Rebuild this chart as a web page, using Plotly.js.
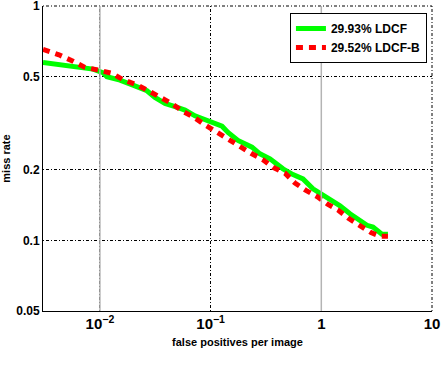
<!DOCTYPE html>
<html>
<head>
<meta charset="utf-8">
<script src="https://cdn.plot.ly/plotly-3.0.1.min.js"></script>
<style>
  body { margin: 0; background: #fff; }
  #chart { width: 442px; height: 382px; }
</style>
</head>
<body>
<div id="chart"></div>
<script>
// false positives per image vs miss rate
const ldcfFppi = [0.00306, 0.00436, 0.00661, 0.00865, 0.0100, 0.01064, 0.01156, 0.01516, 0.01988, 0.0266,
    0.0314, 0.0387, 0.0477, 0.0587, 0.0722, 0.0890, 0.1096, 0.1268, 0.1436, 0.1767,
    0.2364, 0.279, 0.344, 0.451, 0.555, 0.683, 0.841, 1.015, 1.198, 1.476,
    1.816, 2.237, 2.588, 2.93, 3.25, 3.53, 4.0];
const ldcfMiss = [0.574, 0.563, 0.550, 0.538, 0.525, 0.520, 0.499, 0.483, 0.460, 0.435,
    0.407, 0.384, 0.372, 0.360, 0.340, 0.327, 0.314, 0.307, 0.289, 0.267,
    0.250, 0.234, 0.223, 0.202, 0.191, 0.183, 0.166, 0.157, 0.148, 0.1405,
    0.130, 0.122, 0.116, 0.114, 0.1105, 0.1063, 0.1063];

const ldcfbFppi = [0.00306, 0.00427, 0.00559, 0.00733, 0.0096, 0.01285, 0.01615, 0.02161, 0.0266, 0.0348,
    0.0447, 0.0563, 0.0722, 0.0890, 0.1141, 0.1436, 0.1842, 0.2316, 0.297, 0.366,
    0.470, 0.579, 0.727, 0.914, 1.15, 1.416, 1.742, 2.19, 2.81, 3.39, 4.0];
const ldcfbMiss = [0.653, 0.619, 0.584, 0.547, 0.533, 0.516, 0.485, 0.461, 0.438, 0.410,
    0.383, 0.355, 0.333, 0.311, 0.289, 0.269, 0.252, 0.2355, 0.2208, 0.205,
    0.1936, 0.1756, 0.1634, 0.154, 0.1425, 0.1348, 0.1247, 0.116, 0.108, 0.1042, 0.1042];

const seriesNames = ['29.93% LDCF', '29.52% LDCF-B'];
const missTicks = [0.05, 0.1, 0.2, 0.5, 1];
const refLinesX = [0.01, 1];

const font = { family: 'Liberation Sans, Arial, sans-serif', size: 12, color: '#000', weight: 'bold' };
const gridDash = '1px,2px,3px,2px';

const traces = [
    {
        x: ldcfFppi, y: ldcfMiss, mode: 'lines', name: seriesNames[0],
        line: { color: '#00ff00', width: 5 }
    },
    {
        x: ldcfbFppi, y: ldcfbMiss, mode: 'lines', name: seriesNames[1],
        line: { color: '#ff0000', width: 5, dash: '7px,6px' }
    }
];

// gray vertical reference lines drawn over the curves
refLinesX.forEach(v => {
    traces.push({
        x: [v, v], y: [missTicks[0], missTicks[missTicks.length - 1]],
        mode: 'lines', showlegend: false, hoverinfo: 'skip',
        line: { color: '#b4b4b4', width: 1.5 }
    });
});

// dotted grid on the top and right edges (plotly drops edge gridlines)
const shapes = [
    { type: 'line', xref: 'paper', yref: 'paper', x0: 0, x1: 1, y0: 1, y1: 1,
      line: { color: '#000', width: 1, dash: gridDash }, layer: 'below' },
    { type: 'line', xref: 'paper', yref: 'paper', x0: 1, x1: 1, y0: 0, y1: 1,
      line: { color: '#000', width: 1, dash: gridDash }, layer: 'below' }
];

const layout = {
    width: 442, height: 382,
    margin: { l: 43, r: 10, t: 6, b: 71 },
    paper_bgcolor: '#fff', plot_bgcolor: '#fff',
    font: font,
    showlegend: true,
    legend: {
        x: 0.987, y: 0.977, xanchor: 'right', yanchor: 'top',
        bgcolor: '#fff', bordercolor: '#000', borderwidth: 1,
        font: { family: font.family, size: 12, color: '#000', weight: 'bold' }
    },
    xaxis: {
        type: 'log', range: [Math.log10(0.00306), 1],
        dtick: 1, exponentformat: 'power',
        showline: true, linecolor: '#000', linewidth: 1, mirror: false,
        showgrid: true, gridcolor: '#000', griddash: gridDash, gridwidth: 1,
        zeroline: false, ticks: '', ticklabeloverflow: 'allow',
        tickfont: { family: font.family, size: 12, weight: 'bold' },
        title: { text: 'false positives per image', font: { family: font.family, size: 11, weight: 'bold' }, standoff: 6 }
    },
    yaxis: {
        type: 'log', range: [Math.log10(0.05), 0],
        tickvals: missTicks, ticktext: missTicks.map(String),
        showline: true, linecolor: '#000', linewidth: 1, mirror: false,
        showgrid: true, gridcolor: '#000', griddash: gridDash, gridwidth: 1,
        zeroline: false, ticks: '', ticklabeloverflow: 'allow',
        tickfont: { family: font.family, size: 12, weight: 'bold' },
        title: { text: 'miss rate', font: { family: font.family, size: 11, weight: 'bold' }, standoff: 4 }
    },
    shapes: shapes
};

Plotly.newPlot('chart', traces, layout, { displayModeBar: false, staticPlot: true });
</script>
</body>
</html>
